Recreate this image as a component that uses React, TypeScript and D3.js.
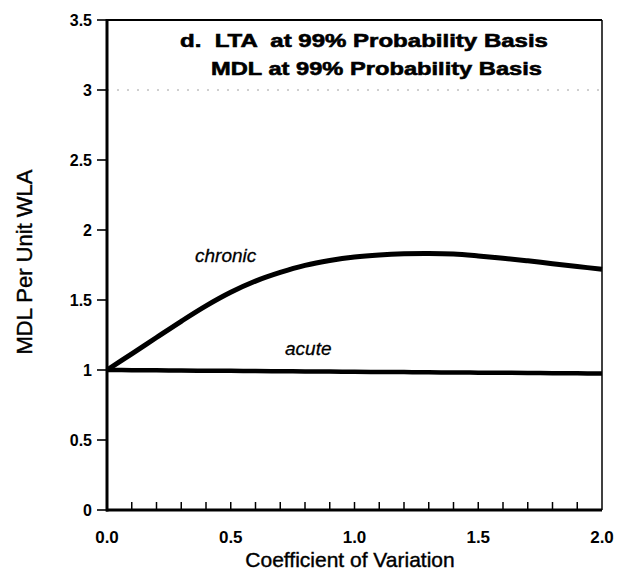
import React from "react";
import * as d3 from "d3";

const cvValues = [0.0, 0.1, 0.2, 0.3, 0.4, 0.5, 0.6, 0.7, 0.8, 0.9, 1.0, 1.1, 1.2, 1.3, 1.4, 1.5, 1.6, 1.7, 1.8, 1.9, 2.0];
const chronicValues = [1.0, 1.115, 1.232, 1.348, 1.458, 1.555, 1.635, 1.697, 1.747, 1.782, 1.807, 1.822, 1.83, 1.832, 1.828, 1.815, 1.799, 1.78, 1.759, 1.739, 1.72];
const acuteValues = [1.0, 0.999, 0.998, 0.996, 0.995, 0.994, 0.992, 0.991, 0.99, 0.989, 0.987, 0.986, 0.985, 0.984, 0.982, 0.981, 0.98, 0.979, 0.977, 0.976, 0.975];
const yTickValues = [0, 0.5, 1, 1.5, 2, 2.5, 3, 3.5];
const yTickLabels = ["0", "0.5", "1", "1.5", "2", "2.5", "3", "3.5"];
const xTickValues = [0, 0.5, 1, 1.5, 2];
const xTickLabels = ["0.0", "0.5", "1.0", "1.5", "2.0"];
const xMinorTicks = d3.range(1, 20).map((i) => i / 10);
const titleLines = ["d.  LTA  at 99% Probability Basis", "MDL at 99% Probability Basis"];
const seriesLabels = ["chronic", "acute"];
const xAxisTitle = "Coefficient of Variation";
const yAxisTitle = "MDL Per Unit WLA";

export default function App() {
  const W = 622, H = 582;
  const left = 107, right = 602, top = 20, bottom = 510;
  const x = d3.scaleLinear().domain([0, 2]).range([left, right]);
  const y = d3.scaleLinear().domain([0, 3.5]).range([bottom, top]);
  const line = d3
    .line<number>()
    .x((_, i) => x(cvValues[i]))
    .y((d) => y(d))
    .curve(d3.curveCatmullRom.alpha(0.5));
  const font = "'Liberation Sans', Arial, Helvetica, sans-serif";

  return (
    <svg width={W} height={H} style={{ position: "absolute", left: 0, top: 0, background: "#fff" }} fontFamily={font}>
      <rect x={0} y={0} width={W} height={H} fill="#fff" />
      {/* faint dotted gridline */}
      <line x1={left} x2={right} y1={y(3)} y2={y(3)} stroke="#888" strokeWidth={0.8} strokeDasharray="2,8" />
      {/* frame */}
      <line x1={left} x2={right} y1={top} y2={top} stroke="#000" strokeWidth={2.2} />
      <line x1={right} x2={right} y1={top} y2={bottom} stroke="#000" strokeWidth={1.5} />
      <line x1={left} x2={left} y1={top - 1} y2={bottom + 1.5} stroke="#000" strokeWidth={3} />
      <line x1={left - 1} x2={right} y1={bottom} y2={bottom} stroke="#000" strokeWidth={3} />
      {/* y ticks */}
      {yTickValues.map((v, i) => (
        <g key={"y" + i}>
          <line x1={left - 10} x2={left} y1={y(v)} y2={y(v)} stroke="#000" strokeWidth={1.6} />
          <text x={left - 15} y={y(v) + 6} textAnchor="end" fontSize={16} fontWeight="bold">
            {yTickLabels[i]}
          </text>
        </g>
      ))}
      {/* x ticks */}
      {xMinorTicks.map((v, i) => (
        <line key={"xm" + i} x1={x(v)} x2={x(v)} y1={bottom} y2={bottom - 8} stroke="#000" strokeWidth={1.5} />
      ))}
      {xTickValues.map((v, i) => (
        <text key={"xl" + i} x={x(v)} y={543} textAnchor="middle" fontSize={17} fontWeight="bold">
          {xTickLabels[i]}
        </text>
      ))}
      {/* series */}
      <path d={line(acuteValues) || ""} fill="none" stroke="#000" strokeWidth={4.5} />
      <path d={line(chronicValues) || ""} fill="none" stroke="#000" strokeWidth={5} />
      <text x={195} y={262} fontSize={19} fontStyle="italic" stroke="#000" strokeWidth={0.3}>
        {seriesLabels[0]}
      </text>
      <text x={285} y={355} fontSize={19} fontStyle="italic" stroke="#000" strokeWidth={0.3}>
        {seriesLabels[1]}
      </text>
      {/* title */}
      <text x={180} y={47} fontSize={19} fontWeight="bold" xmlSpace="preserve" style={{ whiteSpace: "pre" }}
        textLength={368} lengthAdjust="spacingAndGlyphs" stroke="#000" strokeWidth={0.6}>
        {titleLines[0]}
      </text>
      <text x={211} y={75} fontSize={19} fontWeight="bold" xmlSpace="preserve" style={{ whiteSpace: "pre" }}
        textLength={331} lengthAdjust="spacingAndGlyphs" stroke="#000" strokeWidth={0.6}>
        {titleLines[1]}
      </text>
      {/* axis titles */}
      <text x={350} y={567} textAnchor="middle" fontSize={21} stroke="#000" strokeWidth={0.4}>
        {xAxisTitle}
      </text>
      <text transform={`translate(32, 262) rotate(-90)`} textAnchor="middle" fontSize={22} stroke="#000" strokeWidth={0.4}>
        {yAxisTitle}
      </text>
    </svg>
  );
}
